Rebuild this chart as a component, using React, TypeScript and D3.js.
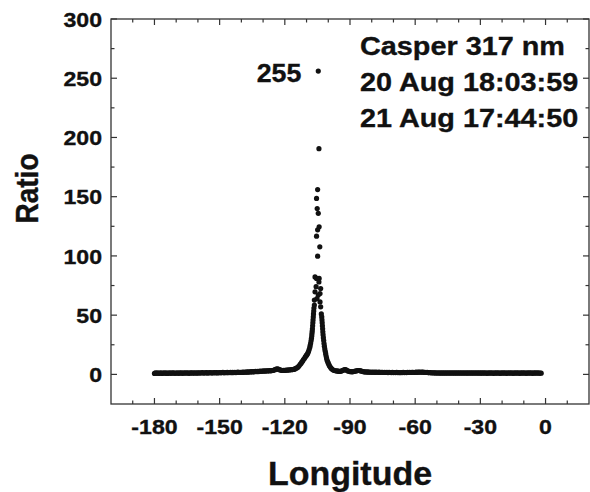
import React from "react";
import * as d3 from "d3";

// ---- data ----
const xMajorTicks = [-180, -150, -120, -90, -60, -30, 0];
const xMinorTicks = [-190, -170, -160, -140, -130, -110, -100, -80, -70, -50, -40, -20, -10, 10];
const yMajorTicks = [0, 50, 100, 150, 200, 250, 300];
const yMinorTicks = [25, 75, 125, 175, 225, 275];

// baseline west of the peak: samples every 0.5 deg from -180 to -116
const westStart = -180;
const westStep = 0.5;
const westRatio = [
  0.8, 1.2, 0.9, 1.3, 0.8, 1.1, 1.2, 0.8, 1.1, 1.3, 0.9, 1.2, 0.8, 1.1, 1.3, 0.9, 1.2, 1.0, 1.3, 0.9, 1.1,
  1.3, 0.9, 1.2, 1.0, 1.4, 0.9, 1.2, 1.1, 1.4, 1.0, 1.3, 0.9, 1.2, 1.4, 1.0, 1.3, 1.1, 1.4, 1.0, 1.2,
  1.4, 1.1, 1.3, 1.5, 1.1, 1.4, 1.2, 1.5, 1.1, 1.3, 1.6, 1.2, 1.4, 1.2, 1.6, 1.3, 1.5, 1.2, 1.4, 1.6,
  1.3, 1.5, 1.7, 1.3, 1.6, 1.4, 1.7, 1.4, 1.6, 1.8, 1.4, 1.7, 1.5, 1.8, 1.5, 1.7, 1.9, 1.6, 1.8, 1.6,
  1.9, 1.7, 2.0, 1.8, 2.1, 1.9, 2.2, 2.0, 2.3, 2.1, 2.4, 2.2, 2.5, 2.3, 2.6, 2.4, 2.7, 2.6, 2.8, 2.7,
  2.9, 2.8, 3.0, 2.9, 3.0, 3.1, 3.0, 3.2, 3.3, 3.6, 4.0, 4.5, 4.7, 4.4, 4.0, 3.6, 3.4, 3.3, 3.4, 3.3,
  3.6, 3.5, 3.8, 3.7, 3.9, 4.0, 4.1, 4.2,
];

// rising (west) flank of the peak
const riseLon = [
  -115.5, -115, -114.5, -114, -113.5, -113, -112.6, -112.2, -111.8, -111.4,
  -111, -110.6, -110.3, -110, -109.7, -109.4, -109.1, -108.8, -108.5, -108.3,
  -108.1, -107.9, -107.75, -107.6, -107.5, -107.4, -107.3, -107.2, -107.1, -107.0,
  -106.9, -106.8, -106.7, -106.6, -106.4,
];
const riseRatio = [
  4.4, 5.0, 5.4, 6.1, 7.0, 8.3, 9.2, 10.3, 11.2, 12.5,
  13.4, 14.6, 15.5, 16.2, 17.0, 18.0, 19.3, 21.0, 23.0, 24.8,
  26.5, 28.5, 30.5, 32.5, 34.5, 36.5, 38.5, 41, 43.5, 46,
  48.5, 51, 53.5, 56, 58.5,
];

// scattered high values at the centre of the peak
const coreLon = [
  -104.6, -104.3, -104.9, -105.4, -105.1, -104.6, -104.2, -104.9, -105.4, -103.9,
  -104.9, -106.1, -104.2, -105.4, -104.3, -105.6, -103.5, -106.1, -103.8, -104.6,
  -106.4, -103.8, -103.5, -105.2,
];
const coreRatio = [
  256, 190.5, 156, 148.5, 140, 136, 124.6, 122, 116.7, 107.7,
  99.8, 82.3, 81, 81, 78, 74, 72.5, 69.7, 68.3, 67,
  62.7, 61.2, 57, 64,
];

// falling (east) flank of the peak
const fallLon = [
  -103.2, -103.0, -102.9, -102.8, -102.7, -102.6, -102.5, -102.4, -102.25, -102.1,
  -101.95, -101.8, -101.6, -101.4, -101.2, -101.0, -100.8, -100.6, -100.3, -100.0,
  -99.7, -99.4, -99.0, -98.6, -98.2, -97.7, -97.2, -96.6,
];
const fallRatio = [
  51, 48.5, 46, 43.5, 41, 38.5, 36, 33.5, 31, 28.5,
  26, 23.8, 21.5, 19.5, 17.5, 15.5, 13.8, 12.2, 10.8, 9.5,
  8.2, 7.0, 6.0, 5.0, 4.3, 3.7, 3.3, 3.0,
];

// baseline east of the peak: samples every 0.5 deg from -96 to -2
const eastStart = -96;
const eastStep = 0.5;
const eastRatio = [
  2.9, 2.7, 2.5, 2.6, 2.8, 3.2, 3.6, 4.1, 4.0, 3.4, 2.9, 2.6, 2.4,
  2.3, 2.2, 2.4, 2.6, 2.8, 3.0, 3.2, 3.3, 3.2, 2.9, 2.6, 2.4, 2.2, 2.1, 2.0, 2.1, 1.9, 2.0, 1.8, 1.9,
  1.8, 1.9, 1.7, 1.9, 1.8, 1.7, 1.9, 1.6, 1.8, 1.7, 1.6, 1.8, 1.6, 1.7, 1.5, 1.7, 1.6, 1.5, 1.7, 1.5,
  1.6, 1.5, 1.7, 1.5, 1.6, 1.4, 1.6, 1.5, 1.7, 1.5, 1.6, 1.5, 1.7, 1.6, 1.8, 1.6, 1.7, 1.8, 1.6, 1.8,
  1.9, 1.7, 1.9, 2.0, 1.8, 2.0, 1.9, 1.7, 1.8, 1.6, 1.7, 1.5, 1.4, 1.5, 1.3, 1.4, 1.2, 1.3, 1.2, 1.1,
  1.3, 1.1, 1.2, 1.0, 1.3, 1.1, 1.2, 1.0, 1.3, 1.1, 1.2, 1.0, 1.3, 1.1, 1.2, 1.0, 1.3, 1.1, 1.2, 1.0,
  1.3, 1.1, 1.2, 1.0, 1.3, 1.1, 1.2, 1.0, 1.2, 1.1, 1.3, 1.0, 1.2, 1.1, 1.3, 1.0, 1.2, 1.1, 1.2, 1.0,
  1.2, 1.0, 1.3, 1.1, 1.2, 0.9, 1.2, 1.0, 1.3, 1.1, 1.2, 0.9, 1.2, 1.0, 1.3, 1.1, 1.2, 0.9, 1.2, 1.0,
  1.3, 1.1, 1.2, 0.9, 1.2, 1.0, 1.3, 1.1, 1.2, 0.9, 1.2, 1.0, 1.3, 1.1, 1.2, 0.9, 1.2, 1.0, 1.3, 1.1,
  1.2, 0.9, 1.2, 1.0, 1.3, 1.1, 1.2, 0.9, 1.2, 1.0, 1.3, 1.1, 1.2, 1.0, 1.1, 1.0,
];

const annotationLines = ["Casper 317 nm", "20 Aug 18:03:59", "21 Aug 17:44:50"];
const peakLabel = "255";
const xTitle = "Longitude";
const yTitle = "Ratio";

// ---- layout ----
const W = 590;
const H = 492;
const plot = { left: 111, right: 589, top: 19, bottom: 404 };
const FONT = "'Liberation Sans', Arial, Helvetica, sans-serif";
const SX = 1.1; // the reference is slightly stretched horizontally

export default function App() {
  const x = d3.scaleLinear().domain([-200, 20]).range([plot.left, plot.right]);
  const y = d3.scaleLinear().domain([-25, 300]).range([plot.bottom, plot.top]);

  const points: [number, number][] = [];
  westRatio.forEach((v, i) => points.push([westStart + i * westStep, v]));
  riseLon.forEach((l, i) => points.push([l, riseRatio[i]]));
  coreLon.forEach((l, i) => points.push([l, coreRatio[i]]));
  fallLon.forEach((l, i) => points.push([l, fallRatio[i]]));
  eastRatio.forEach((v, i) => points.push([eastStart + i * eastStep, v]));

  const axisColor = "#333";
  const majorLen = 6;
  const minorLen = 3.5;
  const textStroke = { stroke: "#111", strokeWidth: 0.35 };

  return (
    <svg
      width={W}
      height={H}
      style={{ position: "absolute", left: 0, top: 0, background: "#fff" }}
      fontFamily={FONT}
    >
      <rect x={0} y={0} width={W} height={H} fill="#fff" />
      {/* data */}
      <g fill="#111">
        {points.map(([l, v], i) => (
          <circle key={i} cx={x(l)} cy={y(v)} r={2.6} />
        ))}
      </g>

      {/* frame */}
      <rect
        x={plot.left}
        y={plot.top}
        width={plot.right - plot.left}
        height={plot.bottom - plot.top}
        fill="none"
        stroke={axisColor}
        strokeWidth={1.3}
      />

      {/* ticks on all four sides, pointing inward */}
      <g stroke={axisColor} strokeWidth={1.2}>
        {xMajorTicks.map((t) => (
          <g key={"xM" + t}>
            <line x1={x(t)} x2={x(t)} y1={plot.bottom} y2={plot.bottom - majorLen} />
            <line x1={x(t)} x2={x(t)} y1={plot.top} y2={plot.top + majorLen} />
          </g>
        ))}
        {xMinorTicks.map((t) => (
          <g key={"xm" + t}>
            <line x1={x(t)} x2={x(t)} y1={plot.bottom} y2={plot.bottom - minorLen} />
            <line x1={x(t)} x2={x(t)} y1={plot.top} y2={plot.top + minorLen} />
          </g>
        ))}
        {yMajorTicks.map((t) => (
          <g key={"yM" + t}>
            <line x1={plot.left} x2={plot.left + majorLen} y1={y(t)} y2={y(t)} />
            <line x1={plot.right} x2={plot.right - majorLen} y1={y(t)} y2={y(t)} />
          </g>
        ))}
        {yMinorTicks.map((t) => (
          <g key={"ym" + t}>
            <line x1={plot.left} x2={plot.left + minorLen} y1={y(t)} y2={y(t)} />
            <line x1={plot.right} x2={plot.right - minorLen} y1={y(t)} y2={y(t)} />
          </g>
        ))}
      </g>

      {/* tick labels */}
      <g fontWeight="bold" fontSize={21} fill="#111" {...textStroke}>
        {xMajorTicks.map((t) => (
          <text
            key={"xl" + t}
            textAnchor="middle"
            transform={`translate(${x(t)},${433.5}) scale(${SX},1)`}
          >
            {t}
          </text>
        ))}
        {yMajorTicks.map((t) => (
          <text
            key={"yl" + t}
            textAnchor="end"
            transform={`translate(${plot.left - 9},${y(t) + 7.6}) scale(${SX},1)`}
          >
            {t}
          </text>
        ))}
      </g>

      {/* axis titles */}
      <text
        fontWeight="bold"
        fontSize={33}
        fill="#111"
        {...textStroke}
        textAnchor="middle"
        transform={`translate(${(plot.left + plot.right) / 2},${485}) scale(1.03,1)`}
      >
        {xTitle}
      </text>
      <text
        fontWeight="bold"
        fontSize={28}
        fill="#111"
        {...textStroke}
        textAnchor="middle"
        transform={`translate(${37.5},${188.5}) scale(${SX},1) rotate(-90)`}
      >
        {yTitle}
      </text>

      {/* annotations */}
      <text
        fontWeight="bold"
        fontSize={25}
        fill="#111"
        {...textStroke}
        transform={`translate(${256.7},${81.7}) scale(1.07,1)`}
      >
        {peakLabel}
      </text>
      <g fontWeight="bold" fontSize={25.5} fill="#111" {...textStroke}>
        {annotationLines.map((s, i) => (
          <text key={s} transform={`translate(${360},${55 + i * 35.9}) scale(1.13,1)`}>
            {s}
          </text>
        ))}
      </g>
    </svg>
  );
}
